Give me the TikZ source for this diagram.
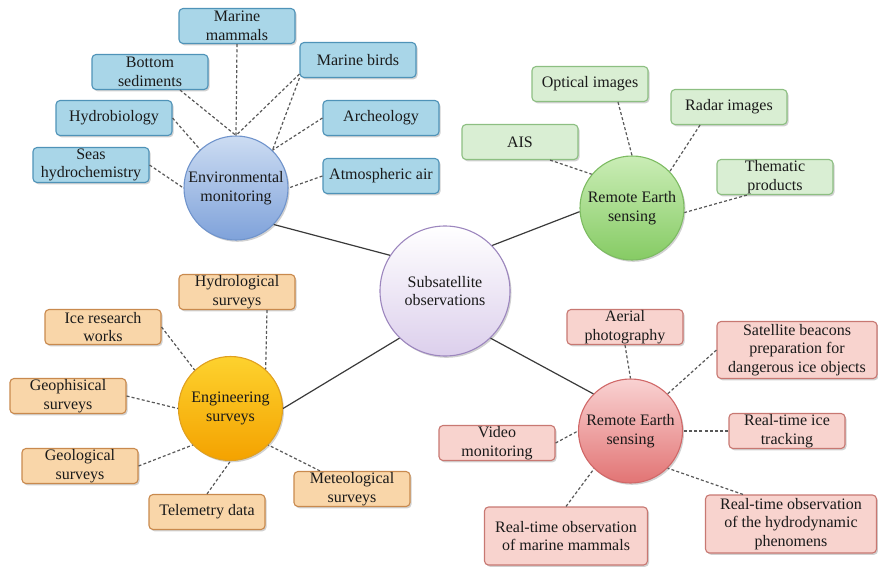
\documentclass[tikz,border=0pt]{standalone}
\usepackage{fontspec}
\setmainfont{Liberation Serif}
\usetikzlibrary{shadows}

\definecolor{txt}{HTML}{1A1A1A}
\definecolor{lnk}{HTML}{3A3A3A}
\definecolor{bluefill}{HTML}{A9D6E8}\definecolor{blueedge}{HTML}{4F93B8}
\definecolor{greenfill}{HTML}{D9EED3}\definecolor{greenedge}{HTML}{8DBF82}
\definecolor{orangefill}{HTML}{F9D6A9}\definecolor{orangeedge}{HTML}{C98A4E}
\definecolor{redfill}{HTML}{F8D3CE}\definecolor{rededge}{HTML}{C87872}
\definecolor{envtop}{HTML}{CCDCF2}\definecolor{envbot}{HTML}{7FA2DA}\definecolor{envedge}{HTML}{7094CC}
\definecolor{grntop}{HTML}{CAEDB6}\definecolor{grnbot}{HTML}{86CB64}\definecolor{grnedge}{HTML}{7DBB62}
\definecolor{orgtop}{HTML}{FDD22E}\definecolor{orgbot}{HTML}{F4A200}\definecolor{orgedge}{HTML}{E0A020}
\definecolor{redtop}{HTML}{F9D2D2}\definecolor{redbot}{HTML}{E27474}\definecolor{rededgec}{HTML}{D06868}
\definecolor{subtop}{HTML}{FFFFFF}\definecolor{subbot}{HTML}{DCCFEC}\definecolor{subedge}{HTML}{9C86BE}

\tikzset{
  every node/.style={text=txt, font=\fontsize{16}{18.5}\selectfont, align=center},
  softshadow/.style={drop shadow={shadow xshift=1.5pt, shadow yshift=-1.8pt, opacity=0.3, fill=black!60}},
  leaf/.style={rectangle, rounded corners=4pt, line width=1.1pt, minimum width=116pt,
    minimum height=35pt, inner sep=1pt, softshadow},
  bluebox/.style={leaf, fill=bluefill, draw=blueedge},
  greenbox/.style={leaf, fill=greenfill, draw=greenedge},
  orangebox/.style={leaf, fill=orangefill, draw=orangeedge},
  redbox/.style={leaf, fill=redfill, draw=rededge},
  hub/.style={circle, inner sep=0pt, line width=1.1pt, softshadow},
  envhub/.style={hub, minimum size=104pt, top color=envtop, bottom color=envbot, draw=envedge},
  grnhub/.style={hub, minimum size=104pt, top color=grntop, bottom color=grnbot, draw=grnedge},
  orghub/.style={hub, minimum size=104pt, top color=orgtop, bottom color=orgbot, draw=orgedge},
  redhub/.style={hub, minimum size=104pt, top color=redtop, bottom color=redbot, draw=rededgec},
  subhub/.style={hub, minimum size=130pt, top color=subtop, bottom color=subbot, draw=subedge},
  link/.style={draw=lnk, line width=1.2pt},
  sublink/.style={draw=lnk!85, line width=1.2pt, dashed, dash pattern=on 3pt off 2.2pt},
}

\begin{document}
\begin{tikzpicture}[x=1pt, y=-1pt]
\useasboundingbox (0,0) rectangle (878,568);

% hubs
\node[subhub] (sub) at (445,291) {Subsatellite\\observations};
\node[envhub] (env) at (236,188) {Environmental\\monitoring};
\node[grnhub] (res) at (632,208) {Remote Earth\\sensing};
\node[orghub] (eng) at (230.5,408.5) {Engineering\\surveys};
\node[redhub] (rem) at (630.5,431) {Remote Earth\\sensing};

% environmental monitoring leaves
\node[bluebox] (mmam) at (237,26) {Marine\\mammals};
\node[bluebox] (bsed) at (150,72) {Bottom\\sediments};
\node[bluebox] (mbird) at (358,60) {Marine birds};
\node[bluebox] (hbio) at (114,118) {Hydrobiology};
\node[bluebox] (arch) at (381,118) {Archeology};
\node[bluebox] (seas) at (91,165) {Seas\\hydrochemistry};
\node[bluebox] (atm) at (381,176) {Atmospheric air};

% remote sensing leaves
\node[greenbox] (opt) at (590,84) {Optical images};
\node[greenbox] (rad) at (729,107) {Radar images};
\node[greenbox] (ais) at (520,142) {AIS};
\node[greenbox] (thm) at (775,177) {Thematic\\products};

% engineering survey leaves
\node[orangebox] (hyd) at (237,292) {Hydrological\\surveys};
\node[orangebox] (ice) at (103,327) {Ice research\\works};
\node[orangebox] (gph) at (68,396) {Geophisical\\surveys};
\node[orangebox] (glg) at (80,466) {Geological\\surveys};
\node[orangebox] (tel) at (207,512) {Telemetry data};
\node[orangebox] (met) at (352,489) {Meteological\\surveys};

% remote sensing (ice) leaves
\node[redbox] (aer) at (625,327) {Aerial\\photography};
\node[redbox, minimum width=160pt, minimum height=57pt] (sat) at (797,350) {Satellite beacons\\preparation for\\dangerous ice objects};
\node[redbox] (itr) at (787,431) {Real-time ice\\tracking};
\node[redbox] (vid) at (497,443) {Video\\monitoring};
\node[redbox, minimum width=163pt, minimum height=58pt] (rmm) at (566,536) {Real-time observation\\of marine mammals};
\node[redbox, minimum width=171pt, minimum height=58pt] (rhd) at (791,524) {Real-time observation\\of the hydrodynamic\\phenomens};

% main links
\draw[link] (env.-44) -- (sub.147);
\draw[link] (sub.44) -- (res.184);
\draw[link] (eng.0) -- (sub.226);
\draw[link] (sub.314) -- (rem.135);

% environmental monitoring links
\draw[sublink] (mmam.south) -- (env.north);
\draw[sublink] ([xshift=30pt]bsed.south) -- (env.north);
\draw[sublink] ([yshift=4pt]mbird.south west) -- (env.north);
\draw[sublink] (mbird.south west) -- (env.46);
\draw[sublink] (hbio.east) -- (env.133);
\draw[sublink] (arch.west) -- (env.46);
\draw[sublink] (seas.east) -- (env.west);
\draw[sublink] (atm.west) -- (env.east);

% remote sensing links
\draw[sublink] ([xshift=28pt]opt.south) -- (res.north);
\draw[sublink] ([xshift=-29pt]rad.south) -- (res.44);
\draw[sublink] ([xshift=30pt]ais.south) -- (res.140);
\draw[sublink] ([xshift=-28pt]thm.south) -- (res.-5);

% engineering survey links
\draw[sublink] ([xshift=30pt]hyd.south) -- (eng.48);
\draw[sublink] (ice.east) -- (eng.133);
\draw[sublink] (gph.east) -- (eng.180);
\draw[sublink] (glg.east) -- (eng.224);
\draw[sublink] (tel.north) -- (eng.270);
\draw[sublink] ([xshift=-32pt]met.north) -- (eng.-44);

% remote sensing (ice) links
\draw[sublink] (aer.south) -- (rem.north);
\draw[sublink] (sat.west) -- (rem.45);
\draw[sublink] (itr.west) -- (rem.east);
\draw[sublink] (vid.east) -- (rem.west);
\draw[sublink] (rmm.north) -- (rem.226);
\draw[sublink] ([xshift=-48pt]rhd.north) -- (rem.-45);
\end{tikzpicture}
\end{document}
